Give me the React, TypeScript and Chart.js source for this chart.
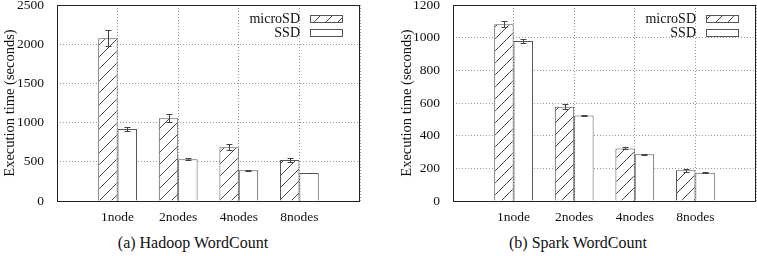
import React, { useEffect, useRef } from 'react';
import { Chart, registerables } from 'chart.js';

Chart.register(...registerables);

const categories = ['1node', '2nodes', '4nodes', '8nodes'];
const seriesNames = ['microSD', 'SSD'];

const hadoopMicroSD = [2075, 1055, 685, 523];
const hadoopMicroSDErr = [100, 50, 40, 25];
const hadoopSSD = [918, 532, 391, 357];
const hadoopSSDErr = [30, 12, 8, 6];

const sparkMicroSD = [1082, 577, 322, 188];
const sparkMicroSDErr = [17, 15, 6, 8];
const sparkSSD = [979, 524, 286, 173];
const sparkSSDErr = [12, 5, 3, 4];

const hadoopYMax = 2500;
const hadoopYStep = 500;
const sparkYMax = 1200;
const sparkYStep = 200;

const captions = ['(a) Hadoop WordCount', '(b) Spark WordCount'];
const yTitle = 'Execution time (seconds)';

const FONT = "'Liberation Serif', 'DejaVu Serif', serif";

function makeHatch(): CanvasPattern | string {
  const size = 12;
  const c = document.createElement('canvas');
  c.width = size;
  c.height = size;
  const g = c.getContext('2d');
  if (!g) return '#fff';
  g.fillStyle = '#ffffff';
  g.fillRect(0, 0, size, size);
  g.strokeStyle = '#333333';
  g.lineWidth = 0.9;
  g.beginPath();
  g.moveTo(0, size);
  g.lineTo(size, 0);
  g.moveTo(-2, 2);
  g.lineTo(2, -2);
  g.moveTo(size - 2, size + 2);
  g.lineTo(size + 2, size - 2);
  g.stroke();
  const p = g.createPattern(c, 'repeat');
  return p || '#fff';
}

type PanelProps = {
  left: number;
  width: number;
  micro: number[];
  microErr: number[];
  ssd: number[];
  ssdErr: number[];
  yMax: number;
  yStep: number;
  axisWidth: number;
  titlePad: number;
  rightPad: number;
};

function Panel(props: PanelProps) {
  const ref = useRef<HTMLCanvasElement | null>(null);
  useEffect(() => {
    const canvas = ref.current;
    if (!canvas) return;
    const hatch = makeHatch();
    const labels = ['', ...categories, ''];
    const pad = (a: number[]) => [null, ...a, null];
    const errs = [pad(props.microErr), pad(props.ssdErr)];

    const errorBars = {
      id: 'errorBars',
      afterDatasetsDraw(chart: any) {
        const ctx = chart.ctx;
        const yScale = chart.scales.y;
        ctx.save();
        ctx.strokeStyle = '#444';
        ctx.lineWidth = 1;
        chart.data.datasets.forEach((ds: any, di: number) => {
          const meta = chart.getDatasetMeta(di);
          meta.data.forEach((bar: any, i: number) => {
            const v = ds.data[i];
            const e = errs[di][i];
            if (v == null || e == null) return;
            const x = Math.round(bar.x) + 0.5;
            const yT = Math.round(yScale.getPixelForValue(v + e)) + 0.5;
            const yB = Math.round(yScale.getPixelForValue(v - e)) + 0.5;
            ctx.beginPath();
            ctx.moveTo(x, yT);
            ctx.lineTo(x, yB);
            ctx.moveTo(x - 3, yT);
            ctx.lineTo(x + 3, yT);
            ctx.moveTo(x - 3, yB);
            ctx.lineTo(x + 3, yB);
            ctx.stroke();
          });
        });
        ctx.restore();
      },
    };

    const frame = {
      id: 'frame',
      afterDatasetsDraw(chart: any) {
        const { ctx, chartArea } = chart;
        ctx.save();
        ctx.strokeStyle = '#222';
        ctx.lineWidth = 1;
        ctx.setLineDash([]);
        ctx.strokeRect(
          Math.round(chartArea.left) + 0.5,
          Math.round(chartArea.top) + 0.5,
          Math.round(chartArea.right - chartArea.left) - 1,
          Math.round(chartArea.bottom - chartArea.top)
        );
        ctx.restore();
      },
    };

    const legendBox = {
      id: 'legendBox',
      afterDraw(chart: any) {
        const { ctx, chartArea } = chart;
        ctx.save();
        const boxRight = Math.round(chartArea.right - 18);
        const boxW = 32;
        const boxH = 7;
        chart.data.datasets.forEach((ds: any, di: number) => {
          const cy = chartArea.top + 13 + di * 14.3;
          const bx = boxRight - boxW;
          const by = Math.round(cy - boxH / 2);
          ctx.fillStyle = ds.backgroundColor;
          ctx.fillRect(bx, by, boxW, boxH);
          ctx.strokeStyle = '#555';
          ctx.lineWidth = 1;
          ctx.strokeRect(bx + 0.5, by + 0.5, boxW, boxH);
          ctx.fillStyle = '#111';
          ctx.font = `14px ${FONT}`;
          ctx.textAlign = 'right';
          ctx.textBaseline = 'middle';
          ctx.fillText(ds.label, bx - 10, cy + 1);
        });
        ctx.restore();
      },
    };

    const chart = new Chart(canvas, {
      type: 'bar',
      data: {
        labels,
        datasets: [
          {
            label: seriesNames[0],
            data: pad(props.micro),
            backgroundColor: hatch as any,
            borderColor: '#555',
            borderWidth: 1,
          },
          {
            label: seriesNames[1],
            data: pad(props.ssd),
            backgroundColor: '#ffffff',
            borderColor: '#555',
            borderWidth: 1,
          },
        ],
      },
      options: {
        responsive: false,
        animation: false,
        devicePixelRatio: 1,
        layout: { padding: { top: 5, right: props.rightPad, left: 0, bottom: 0 } },
        datasets: { bar: { categoryPercentage: 0.64, barPercentage: 1 } } as any,
        plugins: {
          legend: { display: false },
          tooltip: { enabled: false },
          title: { display: false },
        },
        scales: {
          x: {
            type: 'category',
            offset: false,
            grid: { display: true, color: '#999', drawTicks: false, offset: false },
            border: { display: false, dash: [1, 2] },
            ticks: {
              autoSkip: false,
              maxRotation: 0,
              padding: 8,
              color: '#111',
              font: { family: FONT, size: 13.5 },
            },
            afterFit(scale: any) {
              scale.height = 29;
              scale.paddingLeft = 0;
              scale.paddingRight = 0;
            },
          },
          y: {
            min: 0,
            max: props.yMax,
            grid: { color: '#999', drawTicks: false },
            border: { display: false, dash: [1, 2] },
            ticks: {
              stepSize: props.yStep,
              padding: 13,
              color: '#111',
              font: { family: FONT, size: 13.5 },
              callback: (v: any) => String(v),
            },
            title: {
              display: true,
              text: yTitle,
              color: '#111',
              font: { family: FONT, size: 14.5 },
              padding: { top: props.titlePad, bottom: 0 },
            },
            afterFit(scale: any) {
              scale.width = props.axisWidth;
              scale.paddingTop = 0;
              scale.paddingBottom = 0;
            },
          },
        },
      },
      plugins: [errorBars, frame, legendBox],
    } as any);
    return () => chart.destroy();
  }, []);
  return (
    <canvas
      ref={ref}
      width={props.width}
      height={230}
      style={{ position: 'absolute', left: props.left, top: 0, width: props.width, height: 230 }}
    />
  );
}

function Caption({ text, center }: { text: string; center: number }) {
  return (
    <div
      style={{
        position: 'absolute',
        left: center - 150,
        width: 300,
        top: 233,
        height: 20,
        lineHeight: '20px',
        fontSize: 16,
        fontFamily: FONT,
        color: '#111',
        textAlign: 'center',
        whiteSpace: 'nowrap',
      }}
    >
      {text}
    </div>
  );
}

export default function App() {
  return (
    <div
      style={{
        position: 'fixed',
        left: 0,
        top: 0,
        width: 757,
        height: 256,
        background: '#fff',
        overflow: 'hidden',
      }}
    >
      <Panel
        left={0}
        width={378}
        micro={hadoopMicroSD}
        microErr={hadoopMicroSDErr}
        ssd={hadoopSSD}
        ssdErr={hadoopSSDErr}
        yMax={hadoopYMax}
        yStep={hadoopYStep}
        axisWidth={57}
        titlePad={1}
        rightPad={18}
      />
      <Panel
        left={378}
        width={379}
        micro={sparkMicroSD}
        microErr={sparkMicroSDErr}
        ssd={sparkSSD}
        ssdErr={sparkSSDErr}
        yMax={sparkYMax}
        yStep={sparkYStep}
        axisWidth={75}
        titlePad={20}
        rightPad={1}
      />
      <Caption text={captions[0]} center={193} />
      <Caption text={captions[1]} center={578} />
    </div>
  );
}
